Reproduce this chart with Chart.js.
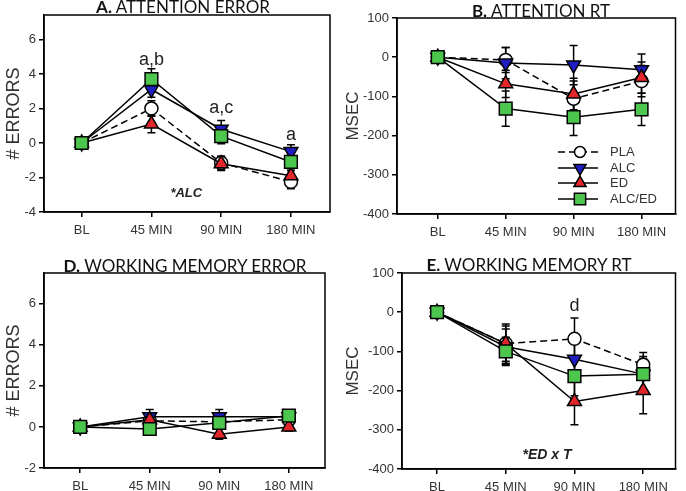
<!DOCTYPE html>
<html lang="en">
<head>
<meta charset="UTF-8">
<title>Attention and working memory</title>
<script src="https://cdn.jsdelivr.net/npm/chart.js"></script>
<style>
  body { margin: 0; background: #fff; }
  .wrap { position: relative; width: 686px; height: 491px; overflow: hidden; }
  .wrap canvas { position: absolute; }
  .title { position: absolute; font-family: Lato, "Open Sans", sans-serif; font-size: 17px; color: #111;
           white-space: nowrap; transform: translate(-50%, -50%); line-height: 1; }
</style>
</head>
<body>
<div class="wrap">
  <canvas id="panelA" width="343" height="245" style="left:0;top:0"></canvas>
  <canvas id="panelB" width="343" height="245" style="left:343px;top:0"></canvas>
  <canvas id="panelD" width="343" height="246" style="left:0;top:245px"></canvas>
  <canvas id="panelE" width="343" height="246" style="left:343px;top:245px"></canvas>
  <div class="title" style="left:183px;top:6px"><b>A.</b> ATTENTION ERROR</div>
  <div class="title" style="left:541px;top:10px"><b>B.</b> ATTENTION RT</div>
  <div class="title" style="left:185px;top:265px"><b>D.</b> WORKING MEMORY ERROR</div>
  <div class="title" style="left:529px;top:264px"><b>E.</b> WORKING MEMORY RT</div>
</div>

<script>
    const categories = ['BL', '45 MIN', '90 MIN', '180 MIN'];
    const groups = ['PLA', 'ALC', 'ED', 'ALC/ED'];

    // A. attention errors (mean, SEM)
    const attnErrPLA = [0, 2.0, -1.15, -2.25];
    const attnErrALC = [0, 3.1, 0.8, -0.5];
    const attnErrED = [0, 1.1, -1.2, -1.9];
    const attnErrALCED = [0, 3.7, 0.4, -1.1];
    const attnErrSemPLA = [0.15, 0.45, 0.4, 0.4];
    const attnErrSemALC = [0.15, 0.45, 0.5, 0.4];
    const attnErrSemED = [0.15, 0.5, 0.4, 0.4];
    const attnErrSemALCED = [0.15, 0.6, 0.45, 0.5];

    // B. attention reaction time (msec)
    const attnRtPLA = [0, -7, -106, -61];
    const attnRtALC = [0, -15, -20, -32];
    const attnRtED = [0, -68, -94, -52];
    const attnRtALCED = [0, -131, -153, -133];
    const attnRtSemPLA = [8, 32, 45, 40];
    const attnRtSemALC = [8, 40, 50, 40];
    const attnRtSemED = [8, 35, 40, 40];
    const attnRtSemALCED = [8, 45, 47, 41];

    // D. working memory errors
    const wmErrPLA = [0, 0.3, 0.25, 0.35];
    const wmErrALC = [0, 0.5, 0.5, 0.5];
    const wmErrED = [0, 0.35, -0.35, 0.0];
    const wmErrALCED = [0, -0.1, 0.2, 0.55];
    const wmErrSemPLA = [0.2, 0.3, 0.3, 0.25];
    const wmErrSemALC = [0.2, 0.35, 0.35, 0.25];
    const wmErrSemED = [0.2, 0.3, 0.25, 0.2];
    const wmErrSemALCED = [0.2, 0.3, 0.3, 0.2];

    // E. working memory reaction time (msec)
    const wmRtPLA = [0, -80, -68, -134];
    const wmRtALC = [0, -88, -120, -158];
    const wmRtED = [0, -80, -228, -200];
    const wmRtALCED = [0, -100, -163, -158];
    const wmRtSemPLA = [10, 45, 53, 31];
    const wmRtSemALC = [10, 45, 45, 40];
    const wmRtSemED = [10, 50, 59, 59];
    const wmRtSemALCED = [10, 36, 50, 45];

    const errorTicks = [-4, -2, 0, 2, 4, 6];
    const errorTicksD = [-2, 0, 2, 4, 6];
    const msecTicks = [-400, -300, -200, -100, 0, 100];

    const groupStyle = {
        'PLA': { pointStyle: 'circle', bg: '#ffffff', dash: [7, 4], radius: 6.5, rotation: 0 },
        'ALC': { pointStyle: 'triangle', bg: '#1e1ec2', dash: [], radius: 8, rotation: 180 },
        'ED': { pointStyle: 'triangle', bg: '#e2262a', dash: [], radius: 8, rotation: 0 },
        'ALC/ED': { pointStyle: 'rect', bg: '#4cc64c', dash: [], radius: 9, rotation: 0 }
    };

    const tickFont = { family: '"Liberation Sans", Arial, sans-serif', size: 13 };
    const tickColor = '#333';

    // error bars drawn under the lines
    const errorBars = {
        id: 'errorBars',
        beforeDatasetsDraw(chart) {
            const ctx = chart.ctx;
            const yScale = chart.scales.y;
            ctx.save();
            ctx.strokeStyle = '#000';
            ctx.lineWidth = 1.5;
            chart.data.datasets.forEach((ds, i) => {
                const meta = chart.getDatasetMeta(i);
                meta.data.forEach((pt, j) => {
                    const v = ds.data[j].y;
                    const e = ds.sem[j];
                    const yTop = yScale.getPixelForValue(v + e);
                    const yBot = yScale.getPixelForValue(v - e);
                    ctx.beginPath();
                    ctx.moveTo(pt.x, yTop); ctx.lineTo(pt.x, yBot);
                    ctx.moveTo(pt.x - 4, yTop); ctx.lineTo(pt.x + 4, yTop);
                    ctx.moveTo(pt.x - 4, yBot); ctx.lineTo(pt.x + 4, yBot);
                    ctx.stroke();
                });
            });
            ctx.restore();
        }
    };

    // frame round the plot area
    const frame = {
        id: 'frame',
        afterDraw(chart) {
            const a = chart.chartArea;
            const ctx = chart.ctx;
            ctx.save();
            ctx.strokeStyle = '#000';
            ctx.lineWidth = 1.5;
            ctx.strokeRect(a.left, a.top, a.right - a.left, a.bottom - a.top);
            ctx.restore();
        }
    };

    function notesPlugin(notes) {
        return {
            id: 'notes',
            afterDatasetsDraw(chart) {
                const ctx = chart.ctx;
                ctx.save();
                ctx.fillStyle = '#222';
                ctx.textAlign = 'center';
                ctx.textBaseline = 'middle';
                notes.forEach(n => {
                    ctx.font = n.font;
                    ctx.fillText(n.text, chart.scales.x.getPixelForValue(n.x), chart.scales.y.getPixelForValue(n.y));
                });
                ctx.restore();
            }
        };
    }

    const legendPlugin = {
        id: 'innerLegend',
        afterDatasetsDraw(chart) {
            const ctx = chart.ctx;
            const rows = [152, 168, 183, 199];
            ctx.save();
            groups.forEach((g, k) => {
                const st = groupStyle[g];
                const y = rows[k];
                ctx.strokeStyle = '#000';
                ctx.lineWidth = 1.5;
                ctx.setLineDash(st.dash);
                ctx.beginPath();
                ctx.moveTo(215, y); ctx.lineTo(255, y);
                ctx.stroke();
                ctx.setLineDash([]);
                ctx.fillStyle = st.bg;
                Chart.helpers.drawPoint(ctx, {
                    pointStyle: st.pointStyle, rotation: st.rotation,
                    radius: st.radius - 1, borderWidth: 1.5
                }, 237, y);
                ctx.fillStyle = '#333';
                ctx.font = '13px "Liberation Sans", Arial, sans-serif';
                ctx.textAlign = 'left';
                ctx.textBaseline = 'middle';
                ctx.fillText(g, 267, y);
            });
            ctx.restore();
        }
    };

    function makePanel(id, cfg) {
        const datasets = groups.map((g, k) => {
            const st = groupStyle[g];
            return {
                label: g,
                data: cfg.means[k].map((v, i) => ({ x: i, y: v })),
                sem: cfg.sems[k],
                borderColor: '#000',
                borderWidth: 1.5,
                borderDash: st.dash,
                pointStyle: st.pointStyle,
                pointRadius: st.radius,
                pointRotation: st.rotation,
                pointBackgroundColor: st.bg,
                pointBorderColor: '#000',
                pointBorderWidth: 1.5,
                tension: 0,
                fill: false,
                order: 4 - k
            };
        });

        const plugins = [errorBars, frame, notesPlugin(cfg.notes || [])];
        if (cfg.legend) plugins.push(legendPlugin);

        return new Chart(document.getElementById(id), {
            type: 'line',
            data: { datasets: datasets },
            plugins: plugins,
            options: {
                responsive: false,
                animation: false,
                layout: { padding: cfg.padding },
                plugins: { legend: { display: false }, tooltip: { enabled: false } },
                scales: {
                    x: {
                        type: 'linear',
                        min: cfg.xMin,
                        max: cfg.xMax,
                        afterBuildTicks: axis => { axis.ticks = categories.map((c, i) => ({ value: i })); },
                        afterFit: s => { s.height = cfg.xHeight; },
                        ticks: {
                            autoSkip: false, maxRotation: 0, padding: 6,
                            font: tickFont, color: tickColor,
                            callback: v => categories[v]
                        },
                        grid: { drawOnChartArea: false, drawTicks: true, tickLength: 5, color: '#000', lineWidth: 1.5 },
                        border: { display: true, color: '#000', width: 1.5 }
                    },
                    y: {
                        min: cfg.yMin,
                        max: cfg.yMax,
                        afterBuildTicks: axis => { axis.ticks = cfg.yTicks.map(v => ({ value: v })); },
                        afterFit: s => { s.width = cfg.yWidth; },
                        ticks: { padding: 3, font: tickFont, color: tickColor },
                        grid: { drawOnChartArea: false, drawTicks: true, tickLength: 5, color: '#000', lineWidth: 1.5 },
                        border: { display: true, color: '#000', width: 1.5 },
                        title: {
                            display: true, text: cfg.yTitle, color: '#333',
                            font: { family: '"Liberation Sans", Arial, sans-serif', size: cfg.yTitleSize },
                            padding: { top: cfg.yTitlePad, bottom: 0 }
                        }
                    }
                }
            }
        });
    }

    const boldNote = 'italic bold 13px "Liberation Sans", Arial, sans-serif';
    const letterNote = '18px "Liberation Sans", Arial, sans-serif';

    makePanel('panelA', {
        means: [attnErrPLA, attnErrALC, attnErrED, attnErrALCED],
        sems: [attnErrSemPLA, attnErrSemALC, attnErrSemED, attnErrSemALCED],
        xMin: -0.54, xMax: 3.56, yMin: -4, yMax: 7.42, yTicks: errorTicks,
        padding: { left: 0, top: 15, right: 13, bottom: 0 }, yWidth: 44, xHeight: 33,
        yTitle: '# ERRORS', yTitleSize: 18, yTitlePad: 3,
        notes: [
            { text: 'a,b', x: 1, y: 4.8, font: letterNote },
            { text: 'a,c', x: 2, y: 2.0, font: letterNote },
            { text: 'a', x: 3, y: 0.45, font: letterNote },
            { text: '*ALC', x: 1.5, y: -2.9, font: boldNote }
        ]
    });

    makePanel('panelB', {
        means: [attnRtPLA, attnRtALC, attnRtED, attnRtALCED],
        sems: [attnRtSemPLA, attnRtSemALC, attnRtSemED, attnRtSemALCED],
        xMin: -0.6, xMax: 3.5, yMin: -400, yMax: 100, yTicks: msecTicks,
        padding: { left: 0, top: 18, right: 2, bottom: 0 }, yWidth: 54, xHeight: 31,
        yTitle: 'MSEC', yTitleSize: 17, yTitlePad: 0,
        legend: true
    });

    makePanel('panelD', {
        means: [wmErrPLA, wmErrALC, wmErrED, wmErrALCED],
        sems: [wmErrSemPLA, wmErrSemALC, wmErrSemED, wmErrSemALCED],
        xMin: -0.52, xMax: 3.52, yMin: -2, yMax: 7.5, yTicks: errorTicksD,
        padding: { left: 0, top: 28, right: 18, bottom: 0 }, yWidth: 44, xHeight: 23,
        yTitle: '# ERRORS', yTitleSize: 18, yTitlePad: 3
    });

    makePanel('panelE', {
        means: [wmRtPLA, wmRtALC, wmRtED, wmRtALCED],
        sems: [wmRtSemPLA, wmRtSemALC, wmRtSemED, wmRtSemALCED],
        xMin: -0.51, xMax: 3.47, yMin: -400, yMax: 100, yTicks: msecTicks,
        padding: { left: 0, top: 28, right: 4, bottom: 0 }, yWidth: 59, xHeight: 22,
        yTitle: 'MSEC', yTitleSize: 17, yTitlePad: 0,
        notes: [
            { text: 'd', x: 2, y: 15, font: letterNote },
            { text: '*ED x T', x: 1.6, y: -364, font: 'italic bold 14px "Liberation Sans", Arial, sans-serif' }
        ]
    });
</script>
</body>
</html>
